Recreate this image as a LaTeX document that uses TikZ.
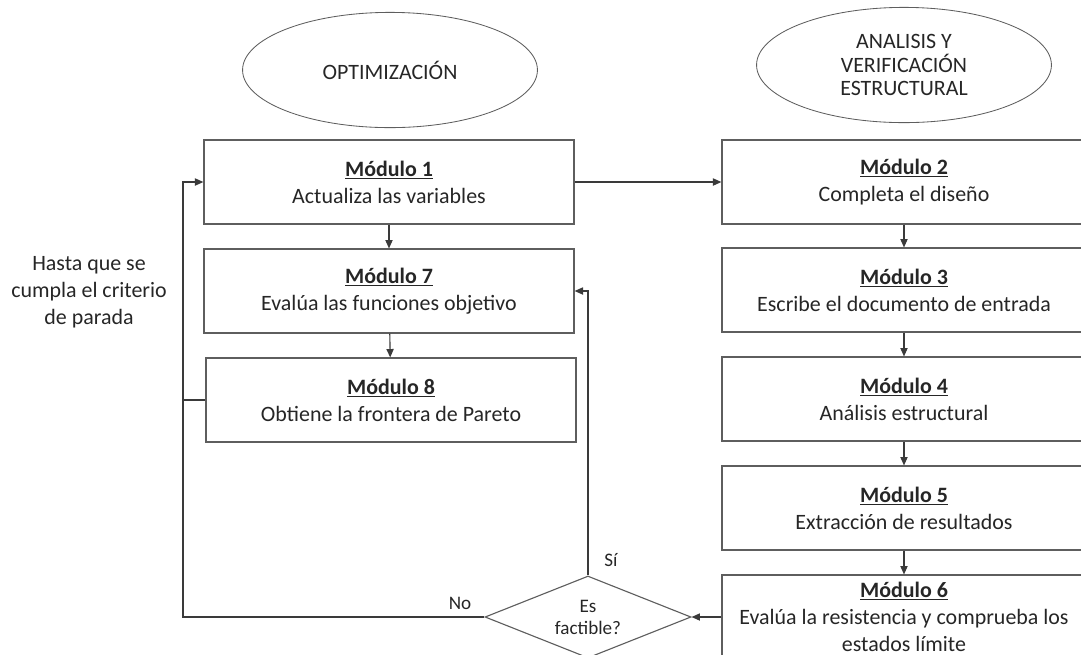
\documentclass[tikz,border=0pt]{standalone}
\usepackage{fontspec}
\setmainfont{Carlito}
\usepackage{tikz}
\usetikzlibrary{arrows.meta,positioning,shapes.geometric,calc}
\definecolor{ink}{HTML}{262626}
\definecolor{boxline}{HTML}{5E5E5E}
\definecolor{wireink}{HTML}{3A3A3A}
\newcommand{\modtitle}[1]{\underline{\textbf{Módulo #1}}}
\tikzset{
  >={Triangle[length=2.1mm,width=1.8mm]},
  boxtext/.style={font=\fontsize{15.6}{19.2}\selectfont, text=ink, align=center},
  modbox/.style={boxtext, draw=boxline, line width=0.8pt, fill=white,
                 minimum height=2.1cm, inner sep=2pt},
  leftmod/.style={modbox, minimum width=9.25cm},
  rightmod/.style={modbox, minimum width=9.1cm},
  phase/.style={ellipse, draw=boxline, line width=0.6pt, inner sep=0pt,
                minimum width=7.37cm, minimum height=2.88cm,
                font=\fontsize{15.6}{16.7}\selectfont, text=ink, align=center},
  decision/.style={diamond, aspect=2.5, draw=boxline, line width=0.8pt, inner sep=0pt,
                   minimum width=5.15cm, minimum height=2.05cm,
                   font=\fontsize{13.6}{15.6}\selectfont, text=ink, align=center},
  wire/.style={wireink, line width=0.8pt},
  flaglabel/.style={font=\fontsize{13.6}{15.6}\selectfont, text=ink},
}
\begin{document}
\begin{tikzpicture}[x=0.025cm, y=-0.025cm, line cap=butt, line join=miter]
\useasboundingbox (0,0) rectangle (1081,654);

% ===================== phase titles =====================
\node[phase] (optim) at (390,70) {OPTIMIZACIÓN};
\node[phase] (anal) at (904,65) {ANALISIS Y\\VERIFICACIÓN\\ESTRUCTURAL};

% ===================== left column: optimizer =====================
\node[leftmod] (m1) at (389,182) {\modtitle{1}\\Actualiza las variables};
\node[leftmod] (m7) at (389,291) {\modtitle{7}\\Evalúa las funciones objetivo};
\node[leftmod] (m8) at (391,400) {\modtitle{8}\\Obtiene la frontera de Pareto};

% ===================== right column: structural analysis =====================
\node[rightmod] (m2) at (904,182) {\modtitle{2}\\Completa el diseño};
\node[rightmod] (m3) at (904,290) {\modtitle{3}\\Escribe el documento de entrada};
\node[rightmod] (m4) at (904,399) {\modtitle{4}\\Análisis estructural};
\node[rightmod] (m5) at (904,508) {\modtitle{5}\\Extracción de resultados};
\node[rightmod] (m6) at (904,617) {\modtitle{6}\\Evalúa la resistencia y comprueba los\\estados límite};

% ===================== feasibility check =====================
\node[decision] (feas) at (588,617) {Es\\factible?};
\node[flaglabel] (no) at (460,603) {No};
\node[flaglabel] (si) at (611,560) {Sí};

\node[boxtext] (stop) at (89,292) {Hasta que se\\cumpla el criterio\\de parada};
\coordinate (loopx) at (183,617);

% ===================== connectors =====================
\draw[wire,->] (m1) -- (m2);
\draw[wire,->] (m1) -- (m7);
\draw[wire,->] (m7) -- (m8);
\draw[wire,->] (m2) -- (m3);
\draw[wire,->] (m3) -- (m4);
\draw[wire,->] (m4) -- (m5);
\draw[wire,->] (m5) -- (m6);
\draw[wire,->] (m6.west) -- (feas.east);
\draw[wire,->] (feas.north) |- (m7.east);
\draw[wire,->] (feas.west) -- (loopx) |- (m1.west);
\draw[wire] (m8.west) -- (m8.west -| loopx);

\end{tikzpicture}
\end{document}
